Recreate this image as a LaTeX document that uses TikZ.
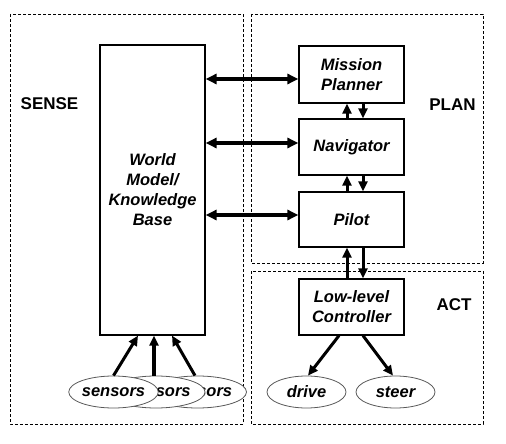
\documentclass[tikz,border=0pt]{standalone}
\usepackage{fontspec}
\setmainfont{Liberation Sans}
\usepackage{tikz}
\usetikzlibrary{shapes,arrows.meta}
\definecolor{ellgray}{rgb}{0.35, 0.35, 0.35}
\tikzstyle{blockbox}=[draw, line width=1.2pt, rectangle, minimum width=105pt, inner sep=0pt, align=center, font=\fontsize{16.5}{20}\selectfont\bfseries\itshape]
\tikzstyle{sensell}=[draw=ellgray, line width=0.8pt, ellipse, fill=white, minimum width=79pt, minimum height=32pt, inner sep=0pt, font=\fontsize{16.5}{20}\selectfont\bfseries\itshape]
\tikzstyle{region}=[line width=0.8pt, dash pattern=on 3pt off 2pt]
\tikzstyle{layerlabel}=[font=\fontsize{17}{20}\selectfont\bfseries]
\tikzstyle{bigarrow}=[line width=4pt, {Triangle[length=11pt,width=10pt]}-{Triangle[length=11pt,width=10pt]}]
\tikzstyle{smallarrow}=[line width=3pt, -{Triangle[length=10pt,width=9pt]}]

\begin{document}
\begin{tikzpicture}[x=1pt,y=-1pt]
\useasboundingbox (0,0) rectangle (506,444);
% layers
\draw[region] (10,14) rectangle (243,424);
\draw[region] (251,14) rectangle (483,263);
\draw[region] (251,271) rectangle (483,424);
\node[layerlabel] (sense) at (49.5,104) {SENSE};
\node[layerlabel] (plan) at (452.5,105) {PLAN};
\node[layerlabel] (act) at (454,305) {ACT};
% blocks
\node[blockbox, minimum height=290pt] (world) at (152.5,190) {World\\Model/\\Knowledge\\Base};
\node[blockbox, minimum height=57pt] (mission) at (351.5,74.5) {Mission\\Planner};
\node[blockbox, minimum height=56pt] (nav) at (351.5,147) {Navigator};
\node[blockbox, minimum height=55pt] (pilot) at (351.5,219.5) {Pilot};
\node[blockbox, minimum height=56pt] (ctrl) at (351.5,307) {Low-level\\Controller};
% sensors (back to front)
\node[sensell] (sens3) at (197.5,392) {\hspace*{6pt}sensors};
\node[sensell] (sens2) at (156,392) {\hspace*{6pt}sensors};
\node[sensell] (sens1) at (113.5,392) {sensors};
\node[sensell] (drive) at (306.5,392) {drive};
\node[sensell] (steer) at (395.5,392) {steer};
% world model links
\draw[bigarrow] ([yshift=-4.5pt]mission.west -| world.east) -- ([yshift=-4.5pt]mission.west);
\draw[bigarrow] ([yshift=4pt]nav.west -| world.east) -- ([yshift=4pt]nav.west);
\draw[bigarrow] ([yshift=4.5pt]pilot.west -| world.east) -- ([yshift=4.5pt]pilot.west);
% plan chain
\draw[smallarrow] ([xshift=-4.5pt]nav.north) -- ([xshift=-4.5pt]mission.south);
\draw[smallarrow] ([xshift=11.5pt]mission.south) -- ([xshift=11.5pt]nav.north);
\draw[smallarrow] ([xshift=-4.5pt]pilot.north) -- ([xshift=-4.5pt]nav.south);
\draw[smallarrow] ([xshift=11.5pt]nav.south) -- ([xshift=11.5pt]pilot.north);
\draw[smallarrow] ([xshift=-4.5pt]ctrl.north) -- ([xshift=-4.5pt]pilot.south);
\draw[smallarrow] ([xshift=11.5pt]pilot.south) -- ([xshift=11.5pt]ctrl.north);
% actuators
\draw[smallarrow] ([xshift=-12.5pt]ctrl.south) -- ([xshift=1.5pt]drive.north);
\draw[smallarrow] ([xshift=11.5pt]ctrl.south) -- ([xshift=-2.5pt]steer.north);
% sensors
\draw[smallarrow] (sens1.north) -- ([xshift=-14.5pt]world.south);
\draw[smallarrow, line width=4pt] ([xshift=-2pt]sens2.north) -- ([xshift=1.5pt]world.south);
\draw[smallarrow] ([xshift=-2.5pt]sens3.north) -- ([xshift=19.5pt]world.south);
%\draw[smallarrow] (sens2.north) -- (world.south);
\end{tikzpicture}
\end{document}
